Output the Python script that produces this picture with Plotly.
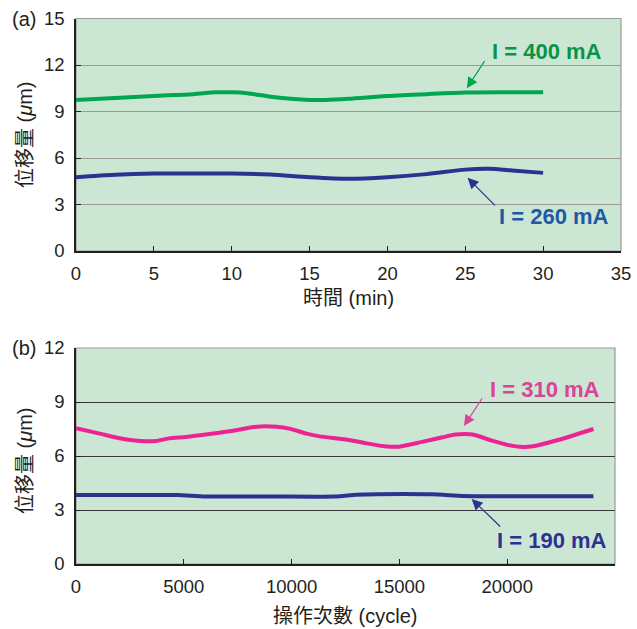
import plotly.graph_objects as go

# ---------------- data ----------------
# panel (a): displacement vs time (min)
t_400 = [0, 2.5, 5, 7.5, 9, 10, 11, 12.5, 14, 15, 16, 17.5, 20, 22.5, 25, 27.5, 30]
v_400 = [9.75, 9.87, 10.0, 10.12, 10.24, 10.24, 10.18, 9.95, 9.8, 9.75, 9.75, 9.82, 10.0, 10.12, 10.22, 10.24, 10.24]
t_260 = [0, 2.5, 5, 7.5, 10, 12.5, 15, 17.5, 20, 22.5, 25, 26.5, 28, 30]
v_260 = [4.76, 4.92, 5.0, 5.0, 5.0, 4.93, 4.76, 4.66, 4.76, 4.96, 5.25, 5.3, 5.2, 5.04]

# panel (b): displacement vs operation cycles
c_310 = [0, 1000, 2200, 3000, 3700, 4300, 5100, 6200, 7300, 8400, 9300, 9900, 10700, 11300,
         12500, 13500, 14300, 15000, 16000, 17000, 17600, 18400, 19300, 20000, 20700, 21200, 22400, 24000]
v_310 = [7.54, 7.27, 6.94, 6.83, 6.83, 6.98, 7.06, 7.22, 7.4, 7.63, 7.62, 7.52, 7.24, 7.09,
         6.92, 6.7, 6.54, 6.52, 6.77, 7.04, 7.19, 7.19, 6.85, 6.62, 6.5, 6.54, 6.9, 7.5]
c_190 = [0, 2500, 4700, 6000, 9000, 12000, 13000, 14000, 16500, 18000, 20000, 24000]
v_190 = [3.83, 3.83, 3.83, 3.75, 3.75, 3.75, 3.85, 3.88, 3.87, 3.78, 3.76, 3.76]

a_xticks = [0, 5, 10, 15, 20, 25, 30, 35]
a_yticks = [0, 3, 6, 9, 12, 15]
b_xticks = [0, 5000, 10000, 15000, 20000, 25000]
b_yticks = [0, 3, 6, 9, 12]

labels = ["I = 400 mA", "I = 260 mA", "I = 310 mA", "I = 190 mA"]

# ---------------- style ----------------
FONT = "Liberation Sans, Arial, Noto Sans CJK TC, sans-serif"
CJK = "Liberation Sans, Noto Sans CJK TC, sans-serif"
TXT = "#231f20"
GREEN_L, GREEN_T = "#00a651", "#0a9447"
BLUE_A_L, BLUE_A_T = "#2e3192", "#1f5aa8"
PINK_L, PINK_T = "#ec2390", "#d9449a"
BLUE_B_L, BLUE_B_T = "#2e3192", "#2e3192"

fig = go.Figure()
fig.add_trace(go.Scatter(x=t_400, y=v_400, mode="lines", xaxis="x", yaxis="y",
                         line=dict(color=GREEN_L, width=4, shape="spline", smoothing=0.8)))
fig.add_trace(go.Scatter(x=t_260, y=v_260, mode="lines", xaxis="x", yaxis="y",
                         line=dict(color=BLUE_A_L, width=4, shape="spline", smoothing=0.8)))
fig.add_trace(go.Scatter(x=c_310, y=v_310, mode="lines", xaxis="x2", yaxis="y2",
                         line=dict(color=PINK_L, width=4, shape="spline", smoothing=0.6)))
fig.add_trace(go.Scatter(x=c_190, y=v_190, mode="lines", xaxis="x2", yaxis="y2",
                         line=dict(color=BLUE_B_L, width=4, shape="spline", smoothing=0.6)))

axcommon = dict(showline=True, linecolor="#231f20", linewidth=1.5, ticks="inside",
                ticklen=5, tickcolor="#231f20", tickwidth=1.2, zeroline=False, automargin=False,
                tickfont=dict(family=FONT, size=18.5, color=TXT), fixedrange=True)

fig.update_layout(
    width=637, height=629, margin=dict(l=0, r=0, t=0, b=0, autoexpand=False),
    paper_bgcolor="white", plot_bgcolor="#cce6d4", showlegend=False,
    xaxis=dict(domain=[76/637, 621/637], anchor="y", range=[0, 35], tickvals=a_xticks,
               ticktext=[str(v) for v in a_xticks],
               showgrid=False, ticklabelstandoff=5, **axcommon),
    yaxis=dict(domain=[1-251/629, 1-18.5/629], anchor="x", range=[0, 15], tickvals=a_yticks,
               ticktext=[str(v) for v in a_yticks],
               showgrid=True, gridcolor="#9a9a9a", gridwidth=1, ticklabelstandoff=6, **axcommon),
    xaxis2=dict(domain=[76/637, 615/637], anchor="y2", range=[0, 25000], tickvals=b_xticks,
                ticktext=[str(v) for v in b_xticks],
                showgrid=False, ticklabelstandoff=5, **axcommon),
    yaxis2=dict(domain=[1-564/629, 1-348/629], anchor="x2", range=[0, 12], tickvals=b_yticks,
                ticktext=[str(v) for v in b_yticks],
                showgrid=True, gridcolor="#3a3a3a", gridwidth=1, ticklabelstandoff=6, **axcommon),
)

# plot area borders (top / right in grey)
for xr, yr in [("x", "y"), ("x2", "y2")]:
    fig.add_shape(type="rect", xref=f"{xr} domain", yref=f"{yr} domain", x0=0, x1=1, y0=0, y1=1,
                  line=dict(color="#9a9a9a", width=1.2), layer="below")

ann = []
# labels
ann.append(dict(x=30.25, y=12.86, xref="x", yref="y", text=f"<b>{labels[0]}</b>", showarrow=False,
                font=dict(family=FONT, size=22, color=GREEN_T)))
ann.append(dict(x=30.67, y=2.2, xref="x", yref="y", text=f"<b>{labels[1]}</b>", showarrow=False,
                font=dict(family=FONT, size=22, color=BLUE_A_T)))
ann.append(dict(x=21776, y=9.67, xref="x2", yref="y2", text=f"<b>{labels[2]}</b>", showarrow=False,
                font=dict(family=FONT, size=22, color=PINK_T)))
ann.append(dict(x=22078, y=1.28, xref="x2", yref="y2", text=f"<b>{labels[3]}</b>", showarrow=False,
                font=dict(family=FONT, size=22, color=BLUE_B_T)))
# arrows
for (hx, hy, tx, ty, xr, yr, col) in [
    (25.1, 10.5, 26.3, 12.35, "x", "y", GREEN_L),
    (25.15, 4.72, 27.0, 2.85, "x", "y", BLUE_A_L),
    (17996, 7.67, 18877, 9.28, "x2", "y2", PINK_T),
    (18352, 3.61, 19745, 2.0, "x2", "y2", BLUE_B_L),
]:
    ann.append(dict(x=hx, y=hy, xref=xr, yref=yr, ax=tx, ay=ty, axref=xr, ayref=yr, text="",
                    showarrow=True, arrowhead=2, arrowsize=1.8, arrowwidth=1.2, arrowcolor=col))

C = dict(xref="paper", yref="paper", showarrow=False, xanchor="center", yanchor="middle")
# panel tags
ann.append(dict(x=24/637, y=1-19/629, text="(a)", font=dict(family=FONT, size=20, color=TXT), **C))
ann.append(dict(x=24/637, y=1-348/629, text="(b)", font=dict(family=FONT, size=20, color=TXT), **C))
# axis titles
ytitle = "位移量 (<i>μ</i>m)"
ann.append(dict(x=25/637, y=1-135/629, text=ytitle, textangle=-90,
                font=dict(family=CJK, size=20, color=TXT), **C))
ann.append(dict(x=25/637, y=1-461/629, text=ytitle, textangle=-90,
                font=dict(family=CJK, size=20, color=TXT), **C))
ann.append(dict(x=348.5/637, y=1-298/629, text="時間 (min)",
                font=dict(family=CJK, size=20, color=TXT), **C))
ann.append(dict(x=345.5/637, y=1-616/629, text="操作次數 (cycle)",
                font=dict(family=CJK, size=20, color=TXT), **C))
fig.update_layout(annotations=ann)

fig.write_html("out.html", config={"displayModeBar": False},
               post_script="document.body.style.margin='0px';")
